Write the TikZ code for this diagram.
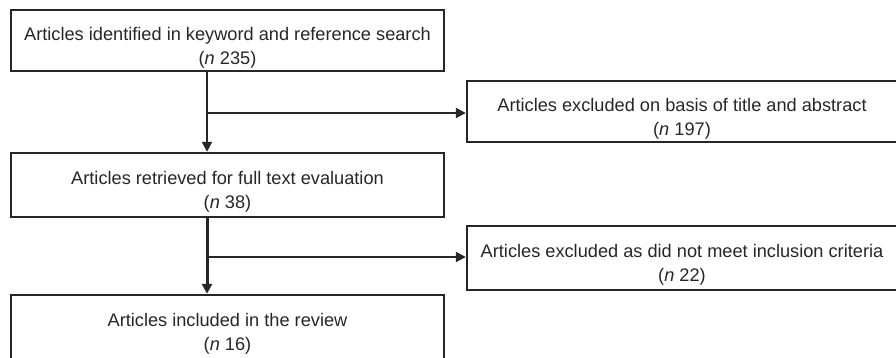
\documentclass[tikz,border=0pt]{standalone}
\usepackage{fontspec}
\setmainfont{Liberation Sans}
\usetikzlibrary{arrows.meta,positioning}
\begin{document}
\begin{tikzpicture}[x=1pt, y=-1pt]
% Flow chart of the article selection
\providecommand{\flowLineColor}{black!85}
\providecommand{\flowBoxLineWidth}{2.4pt}
\providecommand{\flowArrowLineWidth}{2pt}
\tikzset{
  flowbox/.style={draw=\flowLineColor, line width=\flowBoxLineWidth, align=center,
    inner sep=0pt, text height=51pt, text depth=4pt,
    font=\fontsize{18.2}{24}\selectfont, text=black!85},
  flowarrow/.style={draw=\flowLineColor, line width=\flowArrowLineWidth,
    -{Triangle[length=10pt, width=10pt]}}
}
\useasboundingbox (0,0) rectangle (896,357);
\clip (0,0) rectangle (896,357);
% Boxes on the left column
\node[flowbox, minimum width=433pt, minimum height=61pt] (found) at (227.5,40.5)
  {Articles identified in keyword and reference search\\(\textit{n} 235)};
\node[flowbox, minimum width=433pt, minimum height=64pt] (retrieved) at (227.5,185)
  {Articles retrieved for full text evaluation\\(\textit{n} 38)};
\node[flowbox, minimum width=433pt, minimum height=64pt] (included) at (227.5,327)
  {Articles included in the review\\(\textit{n} 16)};
% Boxes on the right column
\node[flowbox, minimum width=430pt, minimum height=61pt] (excludedA) at (682,111.5)
  {Articles excluded on basis of title and abstract\\(\textit{n} 197)};
\node[flowbox, minimum width=430pt, minimum height=64pt] (excludedB) at (682,258)
  {Articles excluded as did not meet inclusion criteria\\(\textit{n} 22)};
% Trunk and branches
\coordinate (trunk) at (207,0);
\coordinate (branchA) at (207,113);
\coordinate (branchB) at (207,257);
\draw[flowarrow] (found.south -| trunk) -- (retrieved.north -| trunk);
\draw[flowarrow] (branchA) -- (branchA -| excludedA.west);
\draw[flowarrow, line width=3pt] (retrieved.south -| trunk) -- (included.north -| trunk);
\draw[flowarrow] (branchB) -- (branchB -| excludedB.west);
\end{tikzpicture}
\end{document}
